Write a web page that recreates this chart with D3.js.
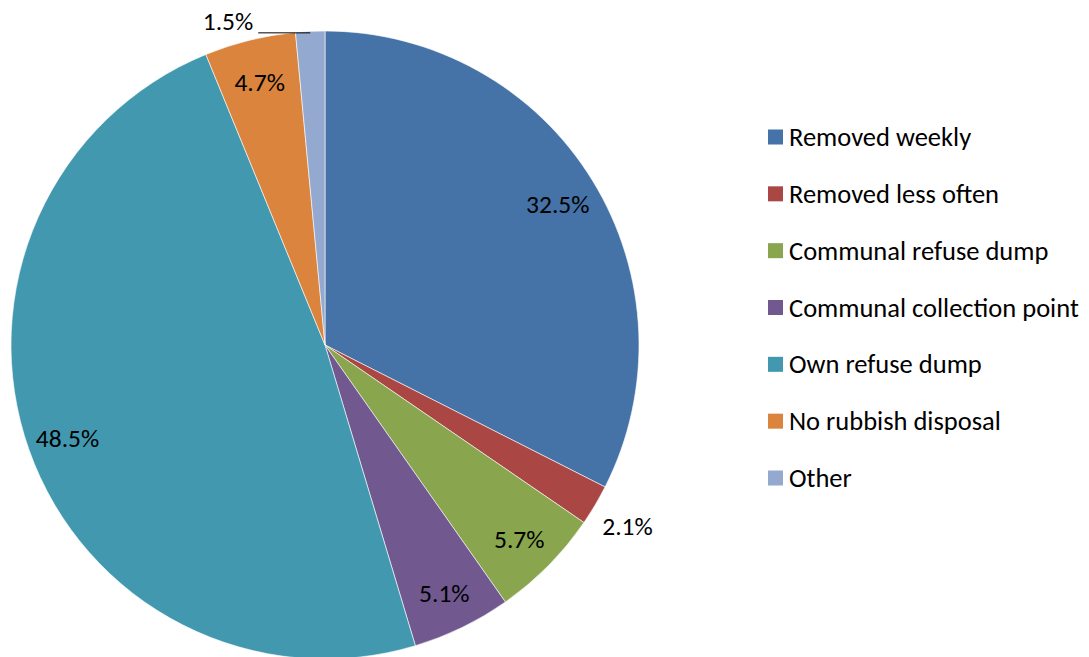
<!DOCTYPE html>
<html>
<head>
<meta charset="utf-8">
<script src="https://cdn.jsdelivr.net/npm/d3@7"></script>
<style>
  html, body { margin: 0; padding: 0; background: #fff; }
  svg { display: block; }
  text { font-family: Carlito, Calibri, Lato, sans-serif; fill: #000; }
</style>
</head>
<body>
<svg id="chart" width="1089" height="657"></svg>
<script>
// Refuse disposal shares (%)
const categories = [
  "Removed weekly",
  "Removed less often",
  "Communal refuse dump",
  "Communal collection point",
  "Own refuse dump",
  "No rubbish disposal",
  "Other"
];
const values = [32.5, 2.1, 5.7, 5.1, 48.5, 4.7, 1.5];
const valueLabels = ["32.5%", "2.1%", "5.7%", "5.1%", "48.5%", "4.7%", "1.5%"];
const colors = ["#4572A7", "#AA4643", "#89A54E", "#71588F", "#4198AF", "#DB843D", "#93A9CF"];

const svg = d3.select("#chart");
const cx = 325, cy = 345, R = 314;

const rows = categories.map((c, i) => ({ name: c, value: values[i], label: valueLabels[i], color: colors[i] }));

const pie = d3.pie().sort(null).value(d => d.value);
const arcs = pie(rows);
const arc = d3.arc().innerRadius(0).outerRadius(R);

const g = svg.append("g").attr("transform", `translate(${cx},${cy})`);

g.selectAll("path.slice")
  .data(arcs)
  .join("path")
  .attr("class", "slice")
  .attr("d", arc)
  .attr("fill", d => d.data.color)
  .attr("stroke", "#fff")
  .attr("stroke-width", 0.6);

// label placement: inside for large slices, outside for the thin ones
const inner = d3.arc().innerRadius(R * 0.87).outerRadius(R * 0.87);
const outer = d3.arc().innerRadius(R * 1.12).outerRadius(R * 1.12);
const rim = d3.arc().innerRadius(R).outerRadius(R);

const fontSize = 25.5;
arcs.forEach(a => {
  const small = a.data.value < 2;
  const mid = a.data.value < 2.5 && !small;
  if (small) {
    // leader line to the left of the slice edge
    const [px, py] = rim.centroid(a);
    const lineY = py + 1.5;
    g.append("line")
      .attr("x1", px - 52).attr("x2", px)
      .attr("y1", lineY).attr("y2", lineY)
      .attr("stroke", "#000").attr("stroke-width", 1);
    g.append("text")
      .attr("x", px - 57).attr("y", lineY - 3)
      .attr("text-anchor", "end")
      .attr("font-size", fontSize)
      .text(a.data.label);
  } else {
    const [x, y] = (mid ? outer : inner).centroid(a);
    g.append("text")
      .attr("x", x).attr("y", y)
      .attr("dy", "0.1em")
      .attr("text-anchor", "middle")
      .attr("dominant-baseline", "central")
      .attr("font-size", fontSize)
      .text(a.data.label);
  }
});

// legend
const legendY = d3.scalePoint().domain(categories).range([137, 478]);
const lg = svg.append("g");
const item = lg.selectAll("g.item").data(rows).join("g")
  .attr("class", "item")
  .attr("transform", d => `translate(768,${legendY(d.name)})`);
item.append("rect")
  .attr("x", 0).attr("y", -7.5)
  .attr("width", 15).attr("height", 15)
  .attr("fill", d => d.color);
item.append("text")
  .attr("x", 21).attr("y", 0)
  .attr("dominant-baseline", "central")
  .attr("font-size", 26.5)
  .text(d => d.name);
</script>
</body>
</html>
